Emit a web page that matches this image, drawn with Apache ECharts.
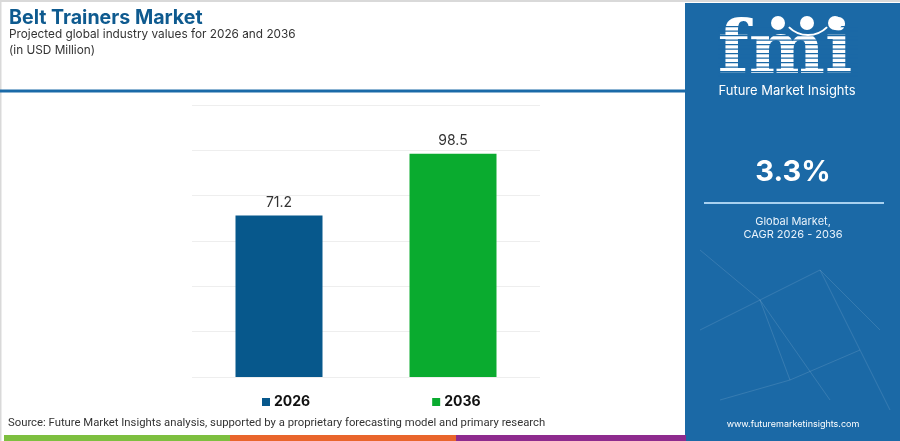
<!DOCTYPE html>
<html>
<head>
<meta charset="utf-8">
<script src="https://cdn.jsdelivr.net/npm/echarts@6/dist/echarts.min.js"></script>
<style>
html,body{margin:0;padding:0;background:#fff;}
#c{width:900px;height:441px;}
</style>
</head>
<body>
<div id="c"></div>
<script>
const categories = ['2026', '2036'];
const values2026 = [71.2, '-'];
const values2036 = ['-', 98.5];
const seriesNames = ['2026', '2036'];
const yTicks = [0, 20, 40, 60, 80, 100, 120];
const cagr = '3.3%';

const FONT = 'Inter, "Noto Sans", sans-serif';
const panelBlue = '#1b69a6';
const chart = echarts.init(document.getElementById('c'), null, {renderer: 'canvas'});

const stripes = [];
for (let y = 26; y < 80; y += 4.5) {
  stripes.push({type: 'rect', shape: {x: 718, y: y, width: 140, height: 1.3}, style: {fill: panelBlue}, z: 12});
}
const net = [
  [[700,250],[760,300]],[[760,300],[820,270]],[[820,270],[880,330]],[[760,300],[790,380]],
  [[790,380],[860,350]],[[700,330],[760,300]],[[820,270],[860,350]],[[720,400],[790,380]],
  [[860,350],[890,410]],[[760,300],[830,400]]
].map(p => ({type: 'line', shape: {x1: p[0][0], y1: p[0][1], x2: p[1][0], y2: p[1][1]},
  style: {stroke: 'rgba(255,255,255,0.12)', lineWidth: 1}, z: 2}));

chart.setOption({
  animation: false,
  textStyle: {fontFamily: FONT},
  grid: {left: 192, right: 360, top: 105, bottom: 64},
  legend: {
    data: seriesNames,
    left: 257, top: 390,
    itemWidth: 8, itemHeight: 8, itemGap: 122,
    icon: 'rect',
    textStyle: {fontFamily: FONT, fontSize: 14, fontWeight: 'bold', color: '#111', padding: [0,0,0,-1]}
  },
  xAxis: {
    type: 'category', data: categories,
    axisLine: {show: false}, axisTick: {show: false}, axisLabel: {show: false}
  },
  yAxis: {
    type: 'value', min: yTicks[0], max: yTicks[yTicks.length - 1], interval: 20,
    axisLine: {show: false}, axisTick: {show: false}, axisLabel: {show: false},
    splitLine: {lineStyle: {color: '#eeeeee', width: 1}}
  },
  series: [
    {name: seriesNames[0], type: 'bar', data: values2026, barWidth: '50%', barGap: '-100%',
     itemStyle: {color: '#07588c'},
     label: {show: true, position: 'top', distance: 6, color: '#333', fontSize: 14, fontFamily: FONT}},
    {name: seriesNames[1], type: 'bar', data: values2036, barWidth: '50%', barGap: '-100%',
     itemStyle: {color: '#0aab2f'},
     label: {show: true, position: 'top', distance: 6, color: '#333', fontSize: 14, fontFamily: FONT}}
  ],
  graphic: [
    {type: 'rect', shape: {x: 0, y: 0, width: 900, height: 2}, style: {fill: '#d9d9d9'}, z: 1},
    {type: 'rect', shape: {x: 0, y: 0, width: 1.5, height: 441}, style: {fill: '#d9d9d9'}, z: 1},
    {type: 'text', left: 9, top: 8, style: {text: 'Belt Trainers Market', fill: '#0e5a8f', font: 'bold 19.6px ' + FONT}, z: 10},
    {type: 'text', left: 9, top: 28.5, style: {text: 'Projected global industry values for 2026 and 2036', fill: '#333', font: '11.8px ' + FONT}, z: 10},
    {type: 'text', left: 9, top: 44.5, style: {text: '(in USD Million)', fill: '#333', font: '11.8px ' + FONT}, z: 10},
    {type: 'rect', shape: {x: 0, y: 89.5, width: 686, height: 3}, style: {fill: '#1a6aa8'}, z: 10},
    {type: 'text', left: 8, top: 418, style: {text: 'Source: Future Market Insights analysis, supported by a proprietary forecasting model and primary research', fill: '#333', font: '11.3px Roboto, ' + FONT}, z: 10},
    {type: 'rect', shape: {x: 4, y: 435, width: 226, height: 6}, style: {fill: '#7dbf3f'}, z: 10},
    {type: 'rect', shape: {x: 230, y: 435, width: 226, height: 6}, style: {fill: '#e9652c'}, z: 10},
    {type: 'rect', shape: {x: 456, y: 435, width: 230, height: 6}, style: {fill: '#8e2b8e'}, z: 10},
    {type: 'rect', shape: {x: 685, y: 3, width: 215, height: 438}, style: {fill: panelBlue}, z: 1},
    ...net,
    {type: 'text', x: 785, y: 54, style: {text: 'fmi', fill: '#fff', font: 'bold 72px "DejaVu Serif", serif', align: 'center', verticalAlign: 'middle'}, z: 11},
    ...stripes,
    {type: 'circle', shape: {cx: 778, cy: 23, r: 7}, style: {fill: '#fff'}, z: 13},
    {type: 'circle', shape: {cx: 807, cy: 23, r: 7}, style: {fill: '#fff'}, z: 13},
    {type: 'circle', shape: {cx: 835, cy: 23, r: 7}, style: {fill: '#fff'}, z: 13},
    {type: 'arc', shape: {cx: 808, cy: 8, r: 27, startAngle: Math.PI * 0.25, endAngle: Math.PI * 0.75}, style: {stroke: '#fff', lineWidth: 2, fill: null}, z: 13},
    {type: 'text', x: 787, y: 91, style: {text: 'Future Market Insights', fill: '#fff', font: '13px ' + FONT, align: 'center', verticalAlign: 'middle'}, z: 13},
    {type: 'text', x: 793, y: 172, style: {text: cagr, fill: '#fff', font: 'bold 29px ' + FONT, align: 'center', verticalAlign: 'middle'}, z: 13},
    {type: 'rect', shape: {x: 704, y: 202, width: 180, height: 2}, style: {fill: '#a8d1f0'}, z: 13},
    {type: 'text', x: 793, y: 222, style: {text: 'Global Market,', fill: '#e8f2fb', font: '11px ' + FONT, align: 'center', verticalAlign: 'middle'}, z: 13},
    {type: 'text', x: 793, y: 235, style: {text: 'CAGR 2026 - 2036', fill: '#e8f2fb', font: '11px ' + FONT, align: 'center', verticalAlign: 'middle'}, z: 13},
    {type: 'text', x: 793, y: 424, style: {text: 'www.futuremarketinsights.com', fill: '#fff', font: '9px ' + FONT, align: 'center', verticalAlign: 'middle'}, z: 13}
  ]
});
</script>
</body>
</html>
